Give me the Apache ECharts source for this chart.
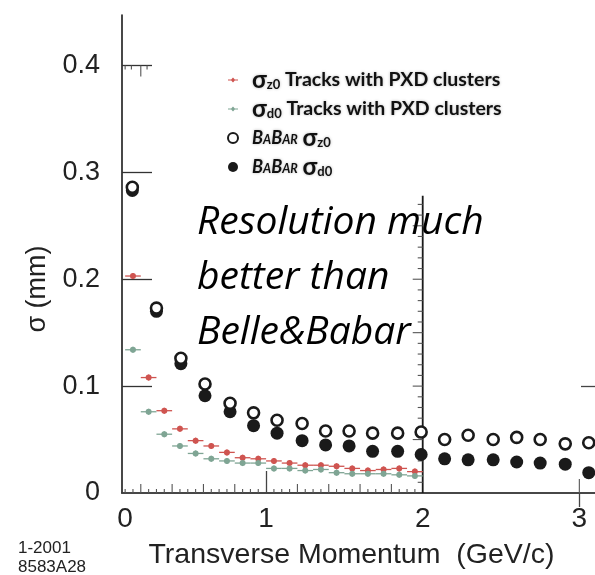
<!DOCTYPE html>
<html>
<head>
<meta charset="utf-8">
<script src="https://cdn.jsdelivr.net/npm/echarts@6/dist/echarts.min.js"></script>
<style>
  html, body { margin: 0; padding: 0; background: #ffffff; }
  #chart { width: 595px; height: 575px; }
</style>
</head>
<body>
<div id="chart"></div>
<script>
// Impact-parameter resolution versus transverse momentum

// Tracks with PXD clusters: bin centres (GeV/c) and resolutions (mm)
const ptPxd = [0.15, 0.25, 0.35, 0.45, 0.55, 0.65, 0.75, 0.85, 0.95, 1.05,
               1.15, 1.25, 1.35, 1.45, 1.55, 1.65, 1.75, 1.85, 1.95];
const sigmaZ0Pxd = [0.203, 0.108, 0.077, 0.060, 0.049, 0.044, 0.038, 0.033, 0.032, 0.030,
                    0.028, 0.026, 0.026, 0.025, 0.023, 0.021, 0.022, 0.023, 0.020];
const sigmaD0Pxd = [0.134, 0.076, 0.055, 0.044, 0.037, 0.032, 0.030, 0.028, 0.028, 0.023,
                    0.023, 0.021, 0.022, 0.019, 0.018, 0.018, 0.018, 0.017, 0.016];
const pxdBinHalfWidth = 0.05;

// BaBar reference points
const ptBabar = [0.146, 0.30, 0.456, 0.61, 0.77, 0.92, 1.07, 1.23, 1.38, 1.53,
                 1.68, 1.84, 1.99, 2.14, 2.29, 2.45, 2.60, 2.75, 2.91, 3.06];
const sigmaZ0Babar = [0.286, 0.173, 0.126, 0.102, 0.084, 0.075, 0.068, 0.065, 0.058, 0.058,
                      0.056, 0.056, 0.057, 0.050, 0.054, 0.050, 0.052, 0.050, 0.046, 0.047];
const sigmaD0Babar = [0.283, 0.170, 0.121, 0.091, 0.076, 0.063, 0.056, 0.049, 0.045, 0.044,
                      0.039, 0.039, 0.036, 0.032, 0.031, 0.031, 0.029, 0.028, 0.027, 0.019];

// Axis ticks and labels
const xTickValues = [0, 1, 2, 3];
const xTickLabels = ['0', '1', '2', '3'];
const yTickValues = [0, 0.1, 0.2, 0.3, 0.4];
const yTickLabels = ['0', '0.1', '0.2', '0.3', '0.4'];

const xMin = 0.08, xMax = 3.1;
const yMin = 0, yMax = 0.4472;

const RED = '#cf5450';
const GREEN = '#7fa594';
const INK = '#1a1a1a';

const pair = (xs, ys) => xs.map((x, i) => (ys[i] == null ? null : [x, ys[i]])).filter(Boolean);

// Small tick marks of the inset frame: [x, y, dxPx, dyPx]
const insetTicks = [];
for (let k = 2; k <= 39; k++) {
  const x = +(k * 0.05).toFixed(2);
  if (k === 20) continue;
  insetTicks.push([x, 0, 0, (k % 4 === 0) ? -9 : -4]);
}
for (let k = 1; k <= 27; k++) {
  const y = +(k * 0.01).toFixed(2);
  insetTicks.push([2, y, (k % 5 === 0) ? -10 : -5, 0]);
}
[[0.1, 4], [0.14, 4], [0.2, 11], [0.24, 4]].forEach(([x, len]) => insetTicks.push([x, 0.4, 0, len]));
insetTicks.push([3, 0, 0, -14]);
const insetEdge = [[2, 0, 0.278]];

const errorBarSeries = (name, ys, color) => ({
  name: name + ' bars',
  type: 'custom',
  coordinateSystem: 'cartesian2d',
  silent: true,
  z: 3,
  data: pair(ptPxd, ys),
  renderItem(params, api) {
    const x = api.value(0), y = api.value(1);
    const c = api.coord([x, y]);
    const l = api.coord([x - pxdBinHalfWidth, y]);
    const r = api.coord([x + pxdBinHalfWidth, y]);
    return {
      type: 'group',
      children: [
        { type: 'line', shape: { x1: l[0], y1: c[1], x2: r[0], y2: c[1] }, style: { stroke: color, lineWidth: 1.3 } },
        { type: 'line', shape: { x1: c[0], y1: c[1] - 3, x2: c[0], y2: c[1] + 3 }, style: { stroke: color, lineWidth: 1.3 } }
      ]
    };
  }
});

const pxdIcon = 'path://M0,4.5H3.2L5,2.6L6.8,4.5H10V5.5H6.8L5,7.4L3.2,5.5H0Z';

const legendLabels = {
  'sz0pxd': '{gap| }{s|σ}{sub|z0}{t| Tracks with PXD clusters}',
  'sd0pxd': '{gap| }{s|σ}{sub|d0}{t| Tracks with PXD clusters}',
  'sz0babar': '{gap| }{bb|B}{bs|A}{bb|B}{bs|AR}{t| }{s|σ}{sub|z0}',
  'sd0babar': '{gap| }{bb|B}{bs|A}{bb|B}{bs|AR}{t| }{s|σ}{sub|d0}'
};

const shadow = { textShadowColor: 'rgba(0,0,0,0.28)', textShadowBlur: 3 };

const chart = echarts.init(document.getElementById('chart'), null, { renderer: 'canvas' });

chart.setOption({
  animation: false,
  backgroundColor: '#ffffff',
  grid: { left: 122, right: -5, top: 15, bottom: 77, containLabel: false },
  xAxis: [
    {
      type: 'value', min: xMin, max: xMax, position: 'bottom',
      axisLine: { show: true, lineStyle: { color: INK, width: 1.6 } },
      axisTick: { show: true, inside: true, length: 22, customValues: [1], lineStyle: { color: '#444', width: 1.3 } },
      axisLabel: {
        show: true,
        customValues: xTickValues.map(v => Math.max(v, xMin + 0.02)),
        formatter: v => xTickLabels[Math.round(v)],
        fontFamily: 'Liberation Sans', fontSize: 28, color: '#222', margin: 12
      },
      splitLine: { show: false },
      name: 'Transverse Momentum  (GeV/c)',
      nameLocation: 'middle', nameGap: 48,
      nameTextStyle: { fontFamily: 'Liberation Sans', fontSize: 28.5, color: '#222', padding: [0, 14, 0, 0] }
    },
    {
      type: 'value', min: xMin, max: xMax, position: 'top',
      axisLine: { show: true, lineStyle: { color: '#444', width: 1.6 } },
      axisTick: { show: true, inside: true, length: 14, customValues: [3], lineStyle: { color: '#444', width: 1.3 } },
      axisLabel: { show: false },
      splitLine: { show: false }
    }
  ],
  yAxis: [
    {
      type: 'value', min: yMin, max: yMax, interval: 0.1, position: 'left',
      axisLine: { show: true, lineStyle: { color: INK, width: 1.6 } },
      axisTick: { show: true, inside: true, length: 30, customValues: [0.1, 0.2, 0.3, 0.4], lineStyle: { color: '#333', width: 1.3 } },
      axisLabel: {
        customValues: yTickValues,
        formatter: v => yTickLabels[Math.round(v * 10)],
        fontFamily: 'Liberation Sans', fontSize: 27, color: '#222', margin: 22
      },
      splitLine: { show: false }
    },
    {
      type: 'value', min: yMin, max: yMax, position: 'right',
      axisLine: { show: false },
      axisTick: { show: true, inside: true, length: 14, customValues: [0.1], lineStyle: { color: '#444', width: 1.3 } },
      axisLabel: { show: false },
      splitLine: { show: false }
    }
  ],
  legend: {
    orient: 'vertical', left: 222, top: 63, itemGap: 5, itemWidth: 10, itemHeight: 10,
    selectedMode: false,
    data: [
      { name: 'sz0pxd', icon: pxdIcon, itemStyle: { color: RED } },
      { name: 'sd0pxd', icon: pxdIcon, itemStyle: { color: GREEN } },
      { name: 'sz0babar', icon: 'circle', itemStyle: { color: '#fff', borderColor: INK, borderWidth: 2 } },
      { name: 'sd0babar', icon: 'circle', itemStyle: { color: INK } }
    ],
    formatter: name => legendLabels[name],
    textStyle: {
      color: '#111',
      rich: {
        gap: { width: 9, fontSize: 10 },
        s: Object.assign({ fontFamily: 'Lato', fontWeight: 'bold', fontSize: 24, color: '#111' }, shadow),
        sub: Object.assign({ fontFamily: 'Lato', fontWeight: 'bold', fontSize: 13, color: '#111', padding: [10, 0, 0, 0] }, shadow),
        t: Object.assign({ fontFamily: 'Lato', fontWeight: 'bold', fontSize: 19.5, color: '#111' }, shadow),
        bb: Object.assign({ fontFamily: 'Lato', fontStyle: 'italic', fontWeight: 'bold', fontSize: 18, color: '#111' }, shadow),
        bs: Object.assign({ fontFamily: 'Lato', fontStyle: 'italic', fontWeight: 'bold', fontSize: 12.5, color: '#111', padding: [4, 0, 0, 0] }, shadow)
      }
    }
  },
  graphic: [
    {
      type: 'text', left: 197, top: 195, z: 10,
      style: {
        text: 'Resolution much\nbetter than\nBelle&Babar',
        fontFamily: 'Open Sans', fontStyle: 'italic', fontSize: 39, lineHeight: 55, fill: '#000'
      }
    },
    {
      type: 'text', x: 38, y: 289, rotation: Math.PI / 2,
      style: { text: 'σ (mm)', fontFamily: 'Liberation Sans', fontSize: 27, fill: '#222', align: 'center', verticalAlign: 'middle' }
    },
    {
      type: 'text', left: 18, top: 539,
      style: { text: '1-2001\n8583A28', fontFamily: 'Liberation Sans', fontSize: 17, lineHeight: 19, fill: '#222' }
    }
  ],
  series: [
    {
      name: 'inset edge', type: 'custom', coordinateSystem: 'cartesian2d', silent: true, z: 1,
      data: insetEdge,
      renderItem(params, api) {
        const a = api.coord([api.value(0), api.value(1)]);
        const b = api.coord([api.value(0), api.value(2)]);
        return { type: 'line', shape: { x1: a[0], y1: a[1], x2: b[0], y2: b[1] }, style: { stroke: INK, lineWidth: 1.8 } };
      }
    },
    {
      name: 'inset ticks', type: 'custom', coordinateSystem: 'cartesian2d', silent: true, z: 1,
      data: insetTicks,
      renderItem(params, api) {
        const p = api.coord([api.value(0), api.value(1)]);
        return { type: 'line', shape: { x1: p[0], y1: p[1], x2: p[0] + api.value(2), y2: p[1] + api.value(3) }, style: { stroke: '#555', lineWidth: 1.1 } };
      }
    },
    {
      name: 'sd0babar', type: 'scatter', symbol: 'circle', symbolSize: 13, z: 2,
      itemStyle: { color: INK, opacity: 1 },
      data: pair(ptBabar, sigmaD0Babar)
    },
    {
      name: 'sz0babar', type: 'scatter', symbol: 'circle', symbolSize: 11, z: 2,
      itemStyle: { color: '#ffffff', borderColor: INK, borderWidth: 2.6, opacity: 1 },
      data: pair(ptBabar, sigmaZ0Babar)
    },
    errorBarSeries('sz0pxd', sigmaZ0Pxd, RED),
    errorBarSeries('sd0pxd', sigmaD0Pxd, GREEN),
    {
      name: 'sz0pxd', type: 'scatter', symbol: 'circle', symbolSize: 6, z: 4,
      itemStyle: { color: RED, opacity: 1 },
      data: pair(ptPxd, sigmaZ0Pxd)
    },
    {
      name: 'sd0pxd', type: 'scatter', symbol: 'circle', symbolSize: 6, z: 4,
      itemStyle: { color: GREEN, opacity: 1 },
      data: pair(ptPxd, sigmaD0Pxd)
    }
  ]
});
</script>
</body>
</html>
